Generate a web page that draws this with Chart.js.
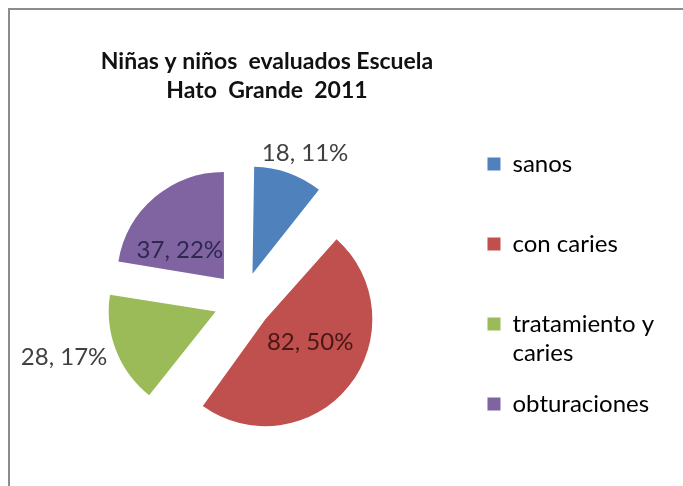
<!DOCTYPE html>
<html>
<head>
<meta charset="utf-8">
<script src="https://cdn.jsdelivr.net/npm/chart.js@4/dist/chart.umd.min.js"></script>
<style>
  html, body { margin: 0; padding: 0; background: #fff; overflow: hidden; }
  #frame { position: absolute; left: 8px; top: 8px; width: 720px; height: 520px; border: 2px solid #8c8c8c; }
  #wrap { position: absolute; left: 0; top: 0; width: 683px; height: 486px; }
</style>
</head>
<body>
<div id="frame"></div>
<div id="wrap"><canvas id="chart-1"></canvas></div>
<script>
const categories = ["sanos", "con caries", "tratamiento y caries", "obturaciones"];
const legendLines = [["sanos", ""], ["con caries", ""], ["tratamiento y", "caries"], ["obturaciones", ""]];
const evaluados = [18, 82, 28, 37];
const colors = ["#4f81bd", "#c0504d", "#9bbb59", "#8064a2"];
const titleLines = ["Niñas y niños  evaluados Escuela", "Hato  Grande  2011"];

// where each value label sits: [fraction of slice angle, fraction of radius]
const labelPlace = [[0.60, 1.23], [0.435, 0.47], [0.574, 1.48], [0.29, 0.49]];
const labelColors = ["#404040", "#4a1616", "#404040", "#2e2850"];

const total = evaluados.reduce((a, b) => a + b, 0);

// Chart.js grows an exploded slice's radius by offset/4 * (1 - sin(angle));
// undo that so every slice keeps the same radius, as in the original
const evenRadius = {
  id: "evenRadius",
  beforeDatasetsDraw(chart) {
    const meta = chart.getDatasetMeta(0);
    const R = meta.controller.outerRadius;
    meta.data.forEach(arc => {
      const t = (arc.options.offset || 0) / 4;
      const fix = 1 - Math.sin(Math.min(Math.PI, arc.circumference));
      arc.outerRadius = R - t * fix;
    });
  }
};

const valueLabels = {
  id: "valueLabels",
  afterDatasetsDraw(chart) {
    const ctx = chart.ctx;
    const meta = chart.getDatasetMeta(0);
    const R = meta.controller.outerRadius;
    ctx.save();
    ctx.font = "24px Lato";
    ctx.textAlign = "center";
    ctx.textBaseline = "middle";
    meta.data.forEach((arc, i) => {
      const p = arc.getProps(["x", "y", "startAngle", "endAngle"], true);
      const t = (arc.options.offset || 0) / 4;
      const mid = (p.startAngle + p.endAngle) / 2;
      const a = p.startAngle + (p.endAngle - p.startAngle) * labelPlace[i][0];
      const r = R * labelPlace[i][1];
      const x = p.x + Math.cos(mid) * t + Math.cos(a) * r;
      const y = p.y + Math.sin(mid) * t + Math.sin(a) * r;
      const pct = Math.round(evaluados[i] / total * 100);
      ctx.fillStyle = labelColors[i];
      ctx.fillText(evaluados[i] + ", " + pct + "%", x, y);
    });
    ctx.restore();
  }
};

// keep the title centred over the left part of the frame, as in the original
const shiftTitle = {
  id: "shiftTitle",
  afterLayout(chart) {
    const tb = chart.titleBlock;
    if (tb) { tb.left = 0; tb.right = 534; tb.width = 534; }
  }
};

const chart1 = new Chart(document.getElementById("chart-1"), {
  type: "pie",
  data: {
    labels: categories,
    datasets: [{
      data: evaluados,
      backgroundColor: colors,
      borderWidth: 0,
      offset: 116
    }]
  },
  options: {
    responsive: true,
    maintainAspectRatio: false,
    animation: false,
    radius: 107,
    layout: { padding: { left: 20, right: 19, top: 0, bottom: 5 } },
    plugins: {
      tooltip: { enabled: false },
      title: {
        display: true,
        text: titleLines,
        color: "#111",
        font: { family: "Lato", size: 23, weight: "bold", lineHeight: 29 / 23 },
        padding: { top: 47, bottom: 16 }
      },
      legend: {
        position: "right",
        fullSize: false,
        labels: {
          color: "#555",
          boxWidth: 13,
          boxHeight: 13,
          padding: 22,
          font: { family: "Lato", size: 24, lineHeight: 29 / 24 },
          generateLabels(chart) {
            return categories.map((c, i) => ({
              text: legendLines[i],
              fillStyle: colors[i],
              strokeStyle: colors[i],
              lineWidth: 0,
              hidden: false,
              index: i
            }));
          }
        }
      }
    }
  },
  plugins: [evenRadius, valueLabels, shiftTitle]
});
</script>
</body>
</html>
